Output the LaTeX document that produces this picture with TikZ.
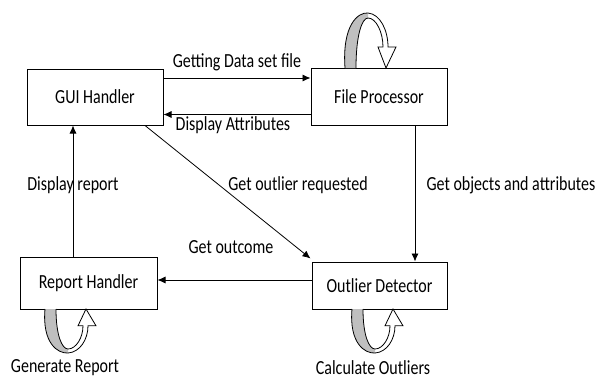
\documentclass[tikz,border=0pt]{standalone}
\usepackage{fontspec}
\setmainfont{Carlito}
\usetikzlibrary{arrows.meta}
\newcommand\sqz[1]{\scalebox{0.8}[1]{#1}}
\begin{document}
\begin{tikzpicture}[x=1pt,y=-1pt,
  box/.style={draw,line width=1pt,fill=white,inner sep=0pt,font=\fontsize{20}{24}\selectfont},
  lbl/.style={inner sep=0pt,font=\fontsize{20}{24}\selectfont},
  conn/.style={line width=0.8pt,-{Latex[length=8pt,width=7pt]}},
  selfloop/.pic={
    \fill[gray!50] (0,0) .. controls (-3,-43) and (13,-56) .. (23,-55) -- (23,-50) .. controls (17,-50) and (11,-33) .. (11,0) -- cycle;
    \draw[line width=0.8pt] (0,0) .. controls (-3,-43) and (13,-56) .. (23,-55) .. controls (35,-54) and (43,-38) .. (43,-21) -- (51,-21) -- (41,0) -- (33,-21) -- (38,-21) .. controls (38,-36) and (31,-50) .. (23,-50) .. controls (17,-50) and (11,-33) .. (11,0);
  }]
\useasboundingbox[fill=white] (0,0) rectangle (598,380);
\node[box,minimum width=136pt,minimum height=56pt] (gui) at (95,97) {\sqz{GUI Handler}};
\node[box,minimum width=136pt,minimum height=57pt] (fp) at (379,96.5) {\sqz{File Processor}};
\node[box,minimum width=137pt,minimum height=52pt] (rh) at (88.5,283) {\sqz{Report Handler}};
\node[box,minimum width=135pt,minimum height=47pt] (od) at (379.5,285.5) {\sqz{Outlier Detector}};
\pic at (345,68) {selfloop};
\pic[yscale=-0.8] at (45,309) {selfloop};
\pic[yscale=-0.8] at (352,309) {selfloop};
\draw[conn] ([yshift=19pt]gui.east) -- ([yshift=19pt]gui.east -| fp.west);
\draw[conn] ([yshift=-18pt]fp.west) -- ([yshift=-18pt]fp.west -| gui.east);
\draw[conn] ([xshift=-15.5pt]rh.north) -- ([xshift=-15.5pt]rh.north |- gui.south);
\draw[conn] ([xshift=50pt]gui.south) -- ([shift={(-1pt,3pt)}]od.north west);
\draw[conn] ([xshift=36pt]fp.south) -- ([xshift=36pt]fp.south |- od.north);
\draw[conn] ([yshift=5.5pt]od.west) -- ([yshift=5.5pt]od.west -| rh.east);
\node[lbl] (l1) at (237,62) {\sqz{Getting Data set file}};
\node[lbl] (l2) at (233,125) {\sqz{Display Attributes}};
\node[lbl] (l3) at (73,185) {\sqz{Display report}};
\node[lbl] (l4) at (298,185) {\sqz{Get outlier requested}};
\node[lbl] (l5) at (511,185) {\sqz{Get objects and attributes}};
\node[lbl] (l6) at (231,247) {\sqz{Get outcome}};
\node[lbl] (l7) at (65,368) {\sqz{Generate Report}};
\node[lbl] (l8) at (373,368) {\sqz{Calculate Outliers}};
\end{tikzpicture}
\end{document}
